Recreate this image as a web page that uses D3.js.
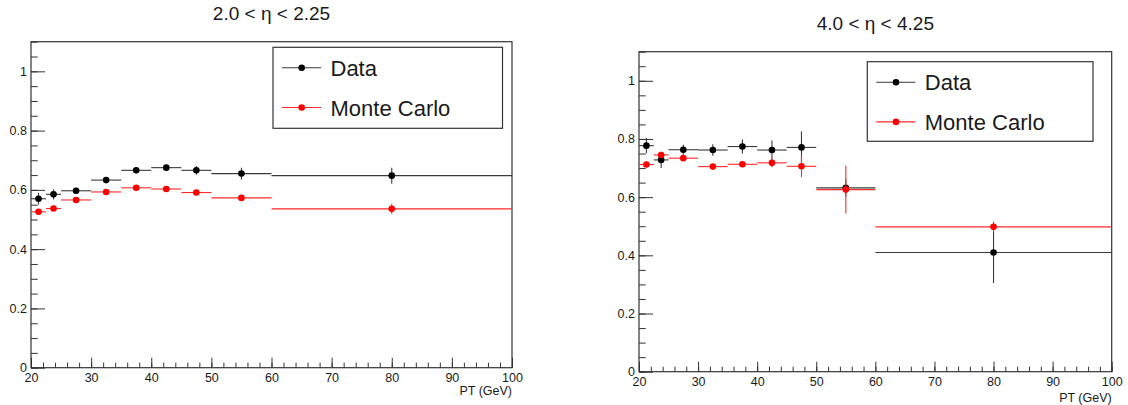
<!DOCTYPE html>
<html>
<head>
<meta charset="utf-8">
<script src="https://cdn.jsdelivr.net/npm/d3@7"></script>
<style>
  html, body { margin: 0; padding: 0; background: #fff; }
  svg { display: block; font-family: "Liberation Sans", Arial, Helvetica, sans-serif; }
</style>
</head>
<body>
<svg id="chart" width="1128" height="405"></svg>
<script>
// ---------------- data ----------------
const binLo     = [20, 22.5, 25, 30, 35, 40, 45, 50, 60];
const binHi     = [22.5, 25, 30, 35, 40, 45, 50, 60, 100];
const binCenter = [21.25, 23.75, 27.5, 32.5, 37.5, 42.5, 47.5, 55, 80];

// panel 1 : 2.0 < eta < 2.25
const dataEta1    = [0.570, 0.585, 0.597, 0.633, 0.666, 0.675, 0.666, 0.655, 0.648];
const dataEta1Err = [0.020, 0.017, 0.010, 0.010, 0.010, 0.010, 0.015, 0.020, 0.027];
const mcEta1      = [0.526, 0.537, 0.566, 0.593, 0.607, 0.603, 0.591, 0.573, 0.536];
const mcEta1Err   = [0.008, 0.008, 0.008, 0.008, 0.008, 0.008, 0.008, 0.010, 0.017];

// panel 2 : 4.0 < eta < 4.25
const dataEta2    = [0.777, 0.728, 0.763, 0.762, 0.774, 0.762, 0.771, 0.632, 0.410];
const dataEta2Err = [0.026, 0.028, 0.017, 0.020, 0.024, 0.033, 0.055, 0.030, 0.105];
const mcEta2      = [0.712, 0.745, 0.734, 0.705, 0.713, 0.718, 0.706, 0.626, 0.498];
const mcEta2Err   = [0.010, 0.010, 0.010, 0.008, 0.010, 0.015, 0.037, 0.082, 0.018];

const titles       = ["2.0 < \u03b7 < 2.25", "4.0 < \u03b7 < 4.25"];
const legendLabels = ["Data", "Monte Carlo"];
const xTickLabels  = [20, 30, 40, 50, 60, 70, 80, 90, 100];
const xMinorTicks  = d3.range(20, 100.001, 2);
const yTickLabels  = [0, 0.2, 0.4, 0.6, 0.8, 1];
const yMinorTicks  = d3.range(0, 1.1001, 0.05);
const xAxisTitle   = "PT (GeV)";

// ---------------- layout ----------------
const panels = [
  { x0: 31,  x1: 512,   y0: 41.7, y1: 367.7, titleY: 20, xTitleDy: 27,
    legend: { x0: 273, x1: 502.5, y0: 47.3, y1: 128.3 },
    data: dataEta1, dataErr: dataEta1Err, mc: mcEta1, mcErr: mcEta1Err, title: titles[0] },
  { x0: 639, x1: 1111.7, y0: 51.7, y1: 371.7, titleY: 30, xTitleDy: 30,
    legend: { x0: 867.3, x1: 1093, y0: 61.7, y1: 141.3 },
    data: dataEta2, dataErr: dataEta2Err, mc: mcEta2, mcErr: mcEta2Err, title: titles[1] }
];

const colData = "#000000";
const colMC   = "#ff0000";
const lineData = "#3a3a3a";
const lineMC   = "#ff2a2a";
const axisCol  = "#333333";
const textCol  = "#1a1a1a";

const svg = d3.select("#chart");

panels.forEach(p => {
  const x = d3.scaleLinear().domain([20, 100]).range([p.x0, p.x1]);
  const y = d3.scaleLinear().domain([0, 1.1]).range([p.y1, p.y0]);
  const g = svg.append("g");

  // title
  g.append("text")
    .attr("x", (p.x0 + p.x1) / 2).attr("y", p.titleY)
    .attr("text-anchor", "middle")
    .attr("font-size", 19).attr("fill", textCol)
    .text(p.title);

  // minor y ticks
  g.append("g").attr("transform", `translate(${p.x0},0)`)
    .call(d3.axisLeft(y).tickValues(yMinorTicks).tickSize(-6.7).tickFormat(""))
    .call(a => a.select(".domain").remove())
    .call(a => a.selectAll("line").attr("stroke", axisCol));
  // major y ticks + labels
  g.append("g").attr("transform", `translate(${p.x0},0)`)
    .call(d3.axisLeft(y).tickValues(yTickLabels).tickSize(-14).tickPadding(4)
      .tickFormat(d => d === 0 ? "0" : d === 1 ? "1" : d3.format(".1f")(d)))
    .call(a => a.select(".domain").remove())
    .call(a => a.selectAll("line").attr("stroke", axisCol))
    .call(a => a.selectAll("text").attr("font-size", 12.5).attr("fill", textCol)
      .attr("font-family", "Liberation Sans, Arial, sans-serif"));

  // minor x ticks
  g.append("g").attr("transform", `translate(0,${p.y1})`)
    .call(d3.axisBottom(x).tickValues(xMinorTicks).tickSize(-5).tickFormat(""))
    .call(a => a.select(".domain").remove())
    .call(a => a.selectAll("line").attr("stroke", axisCol));
  // major x ticks + labels
  g.append("g").attr("transform", `translate(0,${p.y1})`)
    .call(d3.axisBottom(x).tickValues(xTickLabels).tickSize(-10).tickPadding(5).tickFormat(d3.format("d")))
    .call(a => a.select(".domain").remove())
    .call(a => a.selectAll("line").attr("stroke", axisCol))
    .call(a => a.selectAll("text").attr("font-size", 12.5).attr("fill", textCol)
      .attr("font-family", "Liberation Sans, Arial, sans-serif"));

  // x axis title
  g.append("text")
    .attr("x", p.x1).attr("y", p.y1 + p.xTitleDy)
    .attr("text-anchor", "end").attr("font-size", 12.5).attr("fill", textCol)
    .text(xAxisTitle);

  // frame
  g.append("rect")
    .attr("x", p.x0).attr("y", p.y0)
    .attr("width", p.x1 - p.x0).attr("height", p.y1 - p.y0)
    .attr("fill", "none").attr("stroke", axisCol).attr("stroke-width", 1.2);

  // series
  const series = [
    { vals: p.data, errs: p.dataErr, line: lineData, fill: colData },
    { vals: p.mc,   errs: p.mcErr,   line: lineMC,   fill: colMC }
  ];
  series.forEach(s => {
    const sg = g.append("g");
    binCenter.forEach((c, i) => {
      // horizontal (bin width)
      sg.append("line")
        .attr("x1", x(binLo[i])).attr("x2", x(binHi[i]))
        .attr("y1", y(s.vals[i])).attr("y2", y(s.vals[i]))
        .attr("stroke", s.line).attr("stroke-width", 1.1);
      // vertical error
      sg.append("line")
        .attr("x1", x(c)).attr("x2", x(c))
        .attr("y1", y(s.vals[i] - s.errs[i])).attr("y2", y(s.vals[i] + s.errs[i]))
        .attr("stroke", s.line).attr("stroke-width", 1.1);
    });
    sg.selectAll("circle").data(binCenter).join("circle")
      .attr("cx", d => x(d))
      .attr("cy", (d, i) => y(s.vals[i]))
      .attr("r", 3.3)
      .attr("fill", s.fill);
  });

  // legend
  const L = p.legend;
  g.append("rect")
    .attr("x", L.x0).attr("y", L.y0)
    .attr("width", L.x1 - L.x0).attr("height", L.y1 - L.y0)
    .attr("fill", "#fff").attr("stroke", axisCol).attr("stroke-width", 1.2);
  const rows = [L.y0 + 20.5, L.y0 + 60.2];
  legendLabels.forEach((lab, i) => {
    const s = series[i];
    g.append("line")
      .attr("x1", L.x0 + 9).attr("x2", L.x0 + 48)
      .attr("y1", rows[i]).attr("y2", rows[i])
      .attr("stroke", s.line).attr("stroke-width", 1.1);
    g.append("circle")
      .attr("cx", L.x0 + 28.7).attr("cy", rows[i]).attr("r", 3.3)
      .attr("fill", s.fill);
    g.append("text")
      .attr("x", L.x0 + 57.5).attr("y", rows[i] + 8)
      .attr("font-size", 22).attr("fill", textCol)
      .text(lab);
  });
});
</script>
</body>
</html>
